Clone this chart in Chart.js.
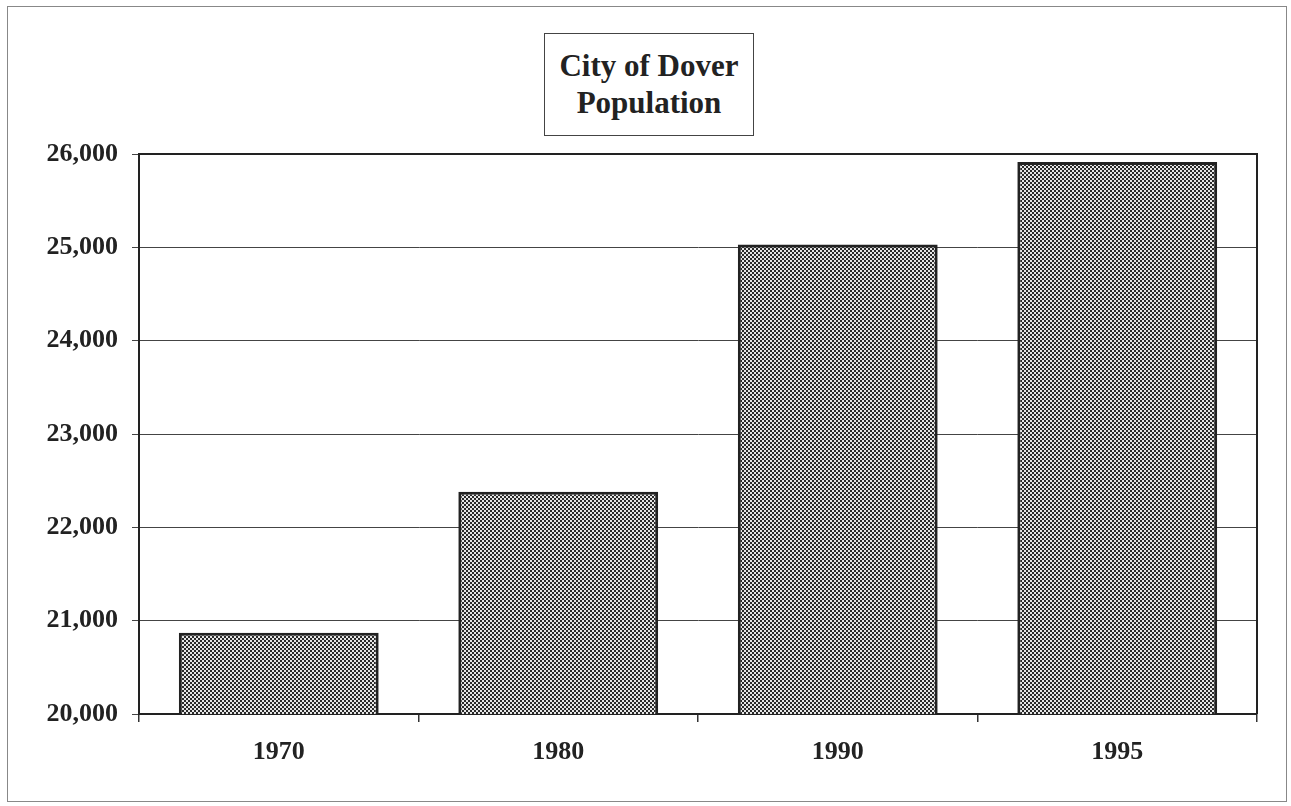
<!DOCTYPE html>
<html>
<head>
<meta charset="utf-8">
<script src="https://cdn.jsdelivr.net/npm/chart.js@4/dist/chart.umd.min.js"></script>
<style>
  html, body { margin: 0; padding: 0; background: #fff; }
  #wrap { position: relative; width: 1291px; height: 806px; }
  #frame {
    position: absolute; left: 7px; top: 6px; width: 1280px; height: 796px;
    border: 1px solid #888; box-sizing: border-box;
  }
  #titleBox {
    position: absolute; left: 544px; top: 33px; width: 210px; height: 103px;
    border: 1px solid #444; box-sizing: border-box; background: #fff;
    font-family: "Liberation Serif", "Times New Roman", serif; font-weight: bold;
    font-size: 31px; line-height: 37px; color: #222; text-align: center;
    padding-top: 13px;
  }
  canvas { position: absolute; left: 0; top: 0; }
</style>
</head>
<body>
<div id="wrap">
  <div id="frame"></div>
  <canvas id="myChart" width="1291" height="806"></canvas>
  <div id="titleBox">City of Dover<br>Population</div>
</div>
<script>
// chart data
const years = ["1970", "1980", "1990", "1995"];
const population = [20870, 22380, 25030, 25915];
const yMin = 20000;
const yMax = 26000;
const yStep = 1000;

// dotted screen fill like the printed chart
function makePattern() {
  const c = document.createElement("canvas");
  c.width = 4;
  c.height = 4;
  const g = c.getContext("2d");
  g.fillStyle = "#e6e6e6";
  g.fillRect(0, 0, 4, 4);
  g.fillStyle = "#2a2a2a";
  g.fillRect(0, 0, 2, 2);
  g.fillRect(2, 2, 2, 2);
  return g.createPattern(c, "repeat");
}

// top and right edge of the plot box
const plotFrame = {
  id: "plotFrame",
  afterDraw(chart) {
    const a = chart.chartArea;
    const ctx = chart.ctx;
    ctx.save();
    ctx.strokeStyle = "#222";
    ctx.lineWidth = 2;
    ctx.beginPath();
    ctx.moveTo(a.left, a.top);
    ctx.lineTo(a.right, a.top);
    ctx.lineTo(a.right, a.bottom);
    ctx.stroke();
    ctx.restore();
  }
};

const serif = "'Liberation Serif', 'Times New Roman', serif";

new Chart(document.getElementById("myChart"), {
  type: "bar",
  data: {
    labels: years,
    datasets: [{
      data: population,
      backgroundColor: makePattern(),
      borderColor: "#222",
      borderWidth: 3,
      borderSkipped: false,
      barPercentage: 0.715,
      categoryPercentage: 1
    }]
  },
  options: {
    responsive: false,
    animation: false,
    events: [],
    layout: { padding: { left: 0, top: 154, right: 34, bottom: 0 } },
    plugins: {
      legend: { display: false },
      tooltip: { enabled: false }
    },
    scales: {
      x: {
        afterFit(scale) { scale.height = 92; },
        grid: {
          offset: true,
          drawOnChartArea: false,
          drawTicks: true,
          tickLength: 8,
          color: "#333",
          lineWidth: 1.5
        },
        border: { display: true, color: "#222", width: 2 },
        ticks: {
          padding: 15,
          color: "#222",
          font: { family: serif, size: 26, weight: "bold" }
        }
      },
      y: {
        min: yMin,
        max: yMax,
        afterFit(scale) { scale.width = 139; },
        grid: {
          color: "#444",
          lineWidth: 1,
          drawTicks: true,
          tickLength: 7
        },
        border: { display: true, color: "#222", width: 2 },
        ticks: {
          stepSize: yStep,
          padding: 14,
          color: "#222",
          font: { family: serif, size: 26, weight: "bold" },
          callback: v => v.toLocaleString("en-US")
        }
      }
    }
  },
  plugins: [plotFrame]
});
</script>
</body>
</html>
